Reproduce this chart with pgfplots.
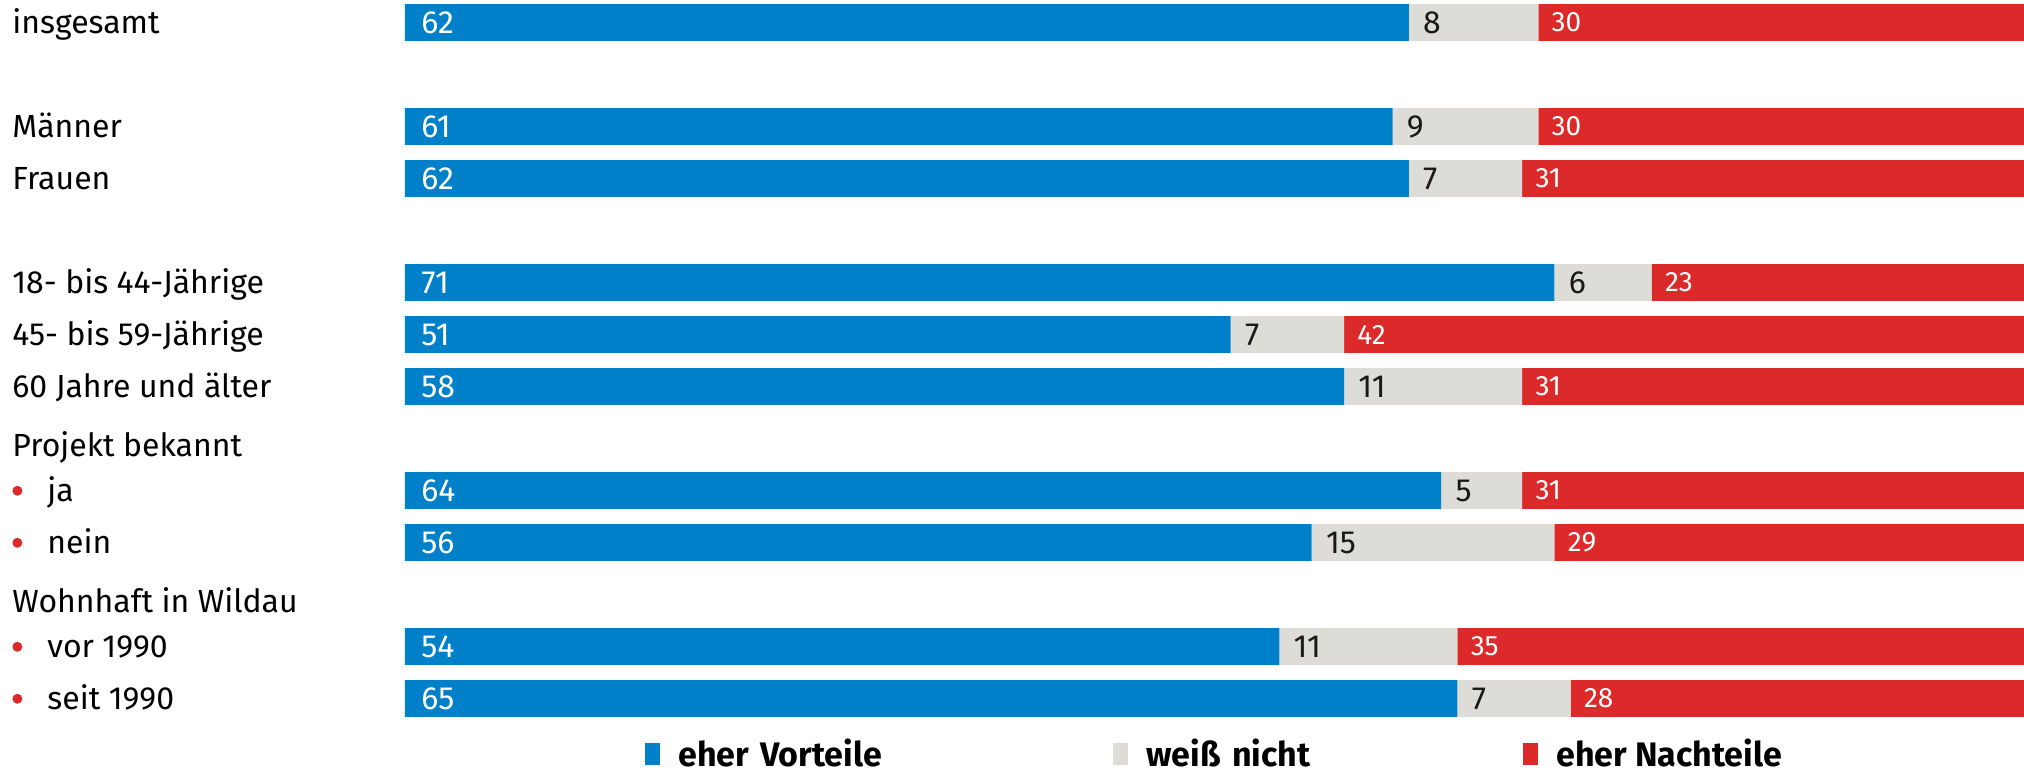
\documentclass[border=0pt]{standalone}
\usepackage{fontspec}
\setmainfont{Fira Sans}
\usepackage{pgfplots}
\usepackage{pgfplotstable}
\pgfplotsset{compat=1.18}
\pgfplotsset{/pgf/number format/assume math mode=true}
\definecolor{cblue}{HTML}{0080C9}
\definecolor{cgrey}{HTML}{DDDCD7}
\definecolor{cred}{HTML}{DC2A2A}
\newcommand\bul{\makebox[17.5pt][l]{\tikz[baseline=0pt]\fill[cred] (2.6pt,5.6pt) circle (2.5pt);}}
\pgfplotstableread{
y  blue grey red
0  62   8    30
2  61   9    30
3  62   7    31
5  71   6    23
6  51   7    42
7  58   11   31
9  64   5    31
10 56   15   29
12 54   11   35
13 65   7    28
}\datatable

\begin{document}
\begin{tikzpicture}
\path[use as bounding box] (-202.5pt,-26pt) rectangle (809.5pt,361pt);
\begin{axis}[
  scale only axis, width=809.5pt, height=361pt,
  xmin=0, xmax=100, ymin=-0.4327, ymax=13.452, y dir=reverse,
  xbar stacked, bar width=0.71,
  axis line style={draw=none}, tick style={draw=none}, xtick=\empty,
  ytick={0,2,3,5,6,7,8.12,9,10,11.12,12,13},
  yticklabels={insgesamt, Männer, Frauen, 18- bis 44-Jährige, 45- bis 59-Jährige, 60 Jahre und älter, Projekt bekannt, \bul ja, \bul nein, Wohnhaft in Wildau, \bul vor 1990, \bul seit 1990},
  yticklabel style={anchor=base west, inner sep=0pt, xshift=-196.5pt, yshift=-5.75pt, font=\fontsize{16}{19}\selectfont, text=black},
  clip=false,
  legend columns=3,
  legend image code/.code={\fill[#1] (0pt,-5.5pt) rectangle (7.5pt,5.5pt);},
  legend style={at={(axis description cs:0.1482,-0.0443)}, anchor=west, draw=none, fill=none, inner sep=0pt,
    font=\bfseries\fontsize{17}{20}\selectfont,
    nodes={inner sep=0pt},
    /tikz/every odd column/.append style={column sep=9pt}},
]
\addplot[fill=cblue, draw=none] table[x=blue, y=y]{\datatable};
\addlegendentry[text width=217.5pt, align=left]{eher Vorteile}
\addplot[fill=cgrey, draw=none] table[x=grey, y=y]{\datatable};
\addlegendentry[text width=188.5pt, align=left]{weiß nicht}
\addplot[fill=cred, draw=none] table[x=red, y=y]{\datatable};
\addlegendentry{eher Nachteile}
\end{axis}
\begin{axis}[
  scale only axis, width=809.5pt, height=361pt,
  xmin=0, xmax=100, ymin=-0.4327, ymax=13.452, y dir=reverse,
  hide axis, clip=false,
]
\addplot[draw=none, mark=none, nodes near coords, point meta=explicit,
  every node near coord/.style={anchor=west, inner sep=0pt, xshift=8pt, text=white, font=\fontsize{16}{19}\selectfont}]
  table[x expr=0, y=y, meta=blue]{\datatable};
\addplot[draw=none, mark=none, nodes near coords, point meta=explicit,
  every node near coord/.style={anchor=west, inner sep=0pt, xshift=7pt, text=black!90, font=\fontsize{16}{19}\selectfont}]
  table[x expr=\thisrow{blue}, y=y, meta=grey]{\datatable};
\addplot[draw=none, mark=none, nodes near coords, point meta=explicit,
  every node near coord/.style={anchor=west, inner sep=0pt, xshift=6.5pt, text=white, font=\fontsize{14}{17}\selectfont}]
  table[x expr=\thisrow{blue}+\thisrow{grey}, y=y, meta=red]{\datatable};
\end{axis}
\end{tikzpicture}
\end{document}
